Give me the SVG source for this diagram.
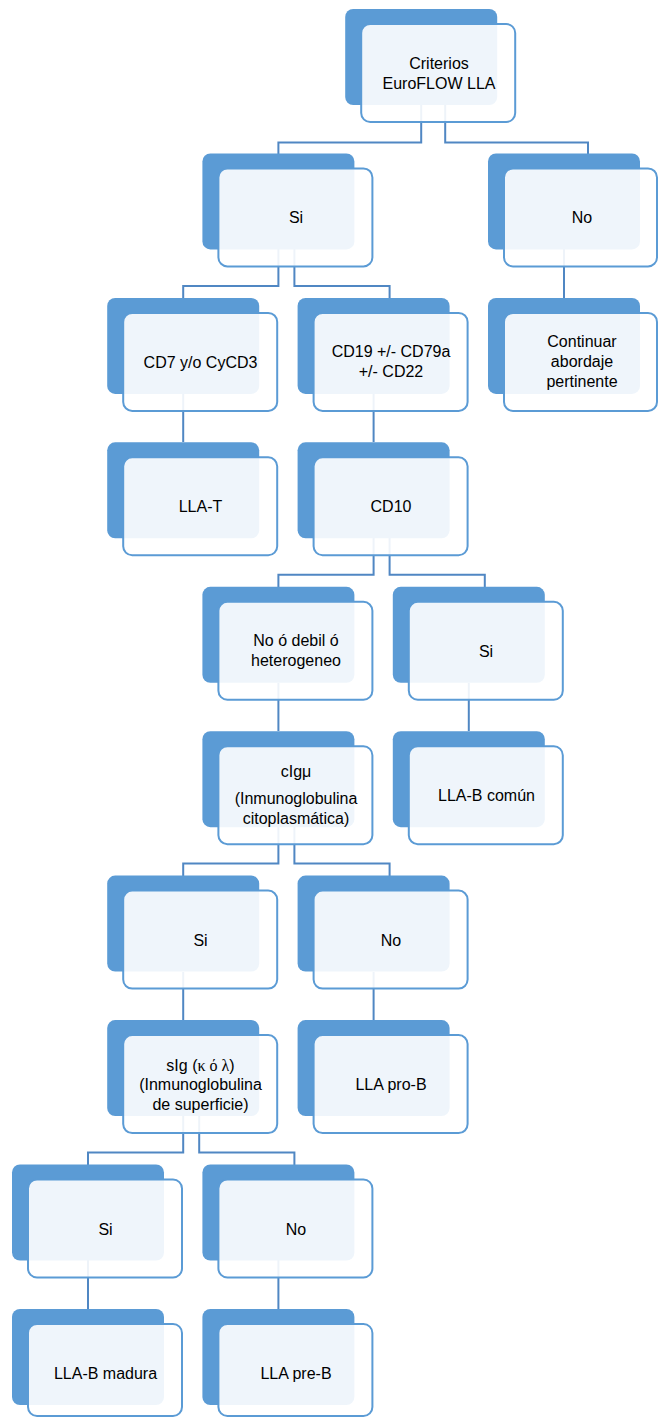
<svg xmlns="http://www.w3.org/2000/svg" width="658" height="1421" viewBox="0 0 658 1421">
<style>
.bk{fill:#5b9bd5;}
.fr{fill:#ffffff;fill-opacity:0.9;stroke:#5b9bd5;stroke-width:2;}
.cn{fill:none;stroke:#5087c3;stroke-width:2;}
text{font-family:"Liberation Sans",Arial,sans-serif;font-size:16px;fill:#000;text-anchor:middle;}
.gr{font-family:"Liberation Serif","Times New Roman",serif;}
</style>
<rect width="658" height="1421" fill="#ffffff"/>
<g id="connectors">
<path class="cn" d="M421.2 105 V142.5 H278.4 V154"/>
<path class="cn" d="M445.2 105 V142.5 H588 V154"/>
<path class="cn" d="M278.4 249 V286 H183.2 V298"/>
<path class="cn" d="M294.4 249 V286 H389.6 V298"/>
<path class="cn" d="M564 249 V298"/>
<path class="cn" d="M183.2 394 V442"/>
<path class="cn" d="M373.6 394 V442"/>
<path class="cn" d="M373.6 538 V574.8 H278.4 V587"/>
<path class="cn" d="M389.6 538 V574.8 H484.8 V587"/>
<path class="cn" d="M278.4 683 V731"/>
<path class="cn" d="M468.8 683 V731"/>
<path class="cn" d="M278.4 827 V863.6 H183.2 V876"/>
<path class="cn" d="M294.4 827 V863.6 H389.6 V876"/>
<path class="cn" d="M183.2 972 V1020"/>
<path class="cn" d="M373.6 972 V1020"/>
<path class="cn" d="M183.2 1116 V1152.5 H88 V1165"/>
<path class="cn" d="M199.2 1116 V1152.5 H294.4 V1165"/>
<path class="cn" d="M88 1260 V1309"/>
<path class="cn" d="M278.4 1260 V1309"/>
</g>
<g id="n-criterios">
<rect class="bk" x="345.2" y="9" width="152" height="96" rx="8"/>
<rect class="fr" x="361.2" y="24" width="154" height="98" rx="9"/>
<text x="439" y="69">Criterios</text>
<text x="439" y="88.5">EuroFLOW LLA</text>
</g>
<g id="n-si1">
<rect class="bk" x="202.4" y="153.4" width="152" height="96" rx="8"/>
<rect class="fr" x="218.4" y="168.4" width="154" height="98" rx="9"/>
<text x="296" y="223">Si</text>
</g>
<g id="n-no1">
<rect class="bk" x="488" y="153.4" width="152" height="96" rx="8"/>
<rect class="fr" x="504" y="168.4" width="153" height="98" rx="9"/>
<text x="582" y="223">No</text>
</g>
<g id="n-cd7">
<rect class="bk" x="107.2" y="297.9" width="152" height="96" rx="8"/>
<rect class="fr" x="123.2" y="312.9" width="154" height="98" rx="9"/>
<text x="200.5" y="367.5">CD7 y/o CyCD3</text>
</g>
<g id="n-cd19">
<rect class="bk" x="297.6" y="297.9" width="152" height="96" rx="8"/>
<rect class="fr" x="313.6" y="312.9" width="154" height="98" rx="9"/>
<text x="391" y="357">CD19 +/- CD79a</text>
<text x="391" y="377">+/- CD22</text>
</g>
<g id="n-continuar">
<rect class="bk" x="488" y="297.9" width="152" height="96" rx="8"/>
<rect class="fr" x="504" y="312.9" width="153" height="98" rx="9"/>
<text x="582" y="347">Continuar</text>
<text x="582" y="367">abordaje</text>
<text x="582" y="387">pertinente</text>
</g>
<g id="n-llat">
<rect class="bk" x="107.2" y="442.3" width="152" height="96" rx="8"/>
<rect class="fr" x="123.2" y="457.3" width="154" height="98" rx="9"/>
<text x="200.5" y="512">LLA-T</text>
</g>
<g id="n-cd10">
<rect class="bk" x="297.6" y="442.3" width="152" height="96" rx="8"/>
<rect class="fr" x="313.6" y="457.3" width="154" height="98" rx="9"/>
<text x="391" y="512">CD10</text>
</g>
<g id="n-nodebil">
<rect class="bk" x="202.4" y="586.8" width="152" height="96" rx="8"/>
<rect class="fr" x="218.4" y="601.8" width="154" height="98" rx="9"/>
<text x="296" y="646">No ó debil ó</text>
<text x="296" y="666">heterogeneo</text>
</g>
<g id="n-si2">
<rect class="bk" x="392.8" y="586.8" width="152" height="96" rx="8"/>
<rect class="fr" x="408.8" y="601.8" width="154" height="98" rx="9"/>
<text x="486" y="656.5">Si</text>
</g>
<g id="n-cigm">
<rect class="bk" x="202.4" y="731.2" width="152" height="96" rx="8"/>
<rect class="fr" x="218.4" y="746.2" width="154" height="98" rx="9"/>
<text x="296" y="777">cIgμ</text>
<text x="296" y="804">(Inmunoglobulina</text>
<text x="296" y="824">citoplasmática)</text>
</g>
<g id="n-llabcomun">
<rect class="bk" x="392.8" y="731.2" width="152" height="96" rx="8"/>
<rect class="fr" x="408.8" y="746.2" width="154" height="98" rx="9"/>
<text x="486.5" y="801">LLA-B común</text>
</g>
<g id="n-si3">
<rect class="bk" x="107.2" y="875.6" width="152" height="96" rx="8"/>
<rect class="fr" x="123.2" y="890.6" width="154" height="98" rx="9"/>
<text x="200.5" y="945.5">Si</text>
</g>
<g id="n-no3">
<rect class="bk" x="297.6" y="875.6" width="152" height="96" rx="8"/>
<rect class="fr" x="313.6" y="890.6" width="154" height="98" rx="9"/>
<text x="391" y="945.5">No</text>
</g>
<g id="n-sig">
<rect class="bk" x="107.2" y="1020.1" width="152" height="96" rx="8"/>
<rect class="fr" x="123.2" y="1035.1" width="154" height="98" rx="9"/>
<text x="200.5" y="1070.5">sIg (<tspan class="gr">κ ό λ</tspan>)</text>
<text x="200.5" y="1090">(Inmunoglobulina</text>
<text x="200.5" y="1109.5">de superficie)</text>
</g>
<g id="n-llaprob">
<rect class="bk" x="297.6" y="1020.1" width="152" height="96" rx="8"/>
<rect class="fr" x="313.6" y="1035.1" width="154" height="98" rx="9"/>
<text x="391" y="1090">LLA pro-B</text>
</g>
<g id="n-si4">
<rect class="bk" x="12" y="1164.5" width="152" height="96" rx="8"/>
<rect class="fr" x="28" y="1179.5" width="154" height="98" rx="9"/>
<text x="105.5" y="1234.5">Si</text>
</g>
<g id="n-no4">
<rect class="bk" x="202.4" y="1164.5" width="152" height="96" rx="8"/>
<rect class="fr" x="218.4" y="1179.5" width="154" height="98" rx="9"/>
<text x="296" y="1234.5">No</text>
</g>
<g id="n-llabmadura">
<rect class="bk" x="12" y="1309" width="152" height="96" rx="8"/>
<rect class="fr" x="28" y="1324" width="154" height="92" rx="9"/>
<text x="105.5" y="1379">LLA-B madura</text>
</g>
<g id="n-llapreb">
<rect class="bk" x="202.4" y="1309" width="152" height="96" rx="8"/>
<rect class="fr" x="218.4" y="1324" width="154" height="92" rx="9"/>
<text x="296" y="1379">LLA pre-B</text>
</g>
</svg>
